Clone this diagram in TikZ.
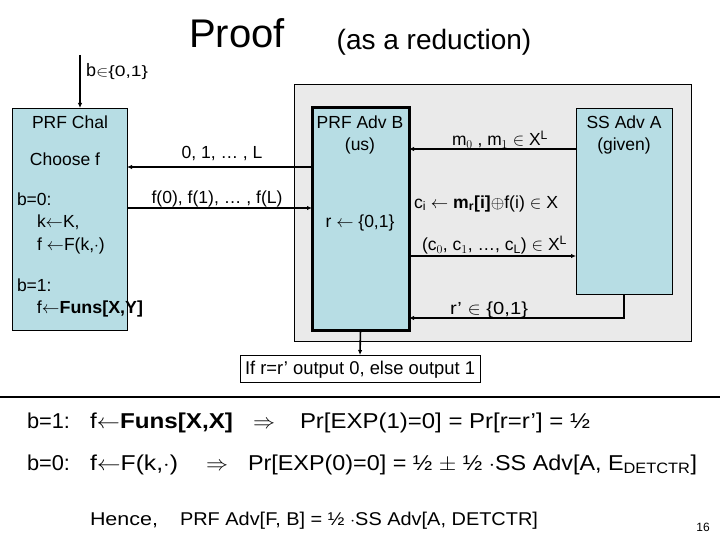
\documentclass[tikz,border=0pt]{standalone}
\usepackage{fontspec}
\setmainfont{Liberation Sans}
\usetikzlibrary{arrows.meta}
\definecolor{boxblue}{RGB}{183,221,228}
\definecolor{boxgrey}{RGB}{234,234,234}
\newcommand\fitto[2]{\resizebox{#1}{\height}{#2}}
\begin{document}
\begin{tikzpicture}[x=1pt,y=-1pt,
  every node/.style={inner sep=0pt, outer sep=0pt},
  arr/.style={line width=1.6pt, -{Latex[length=5pt,width=4.5pt]}},
  ln/.style={line width=1.4pt},
  bluebox/.style={draw, line width=0.8pt, fill=boxblue, anchor=north west},
  txt/.style={font=\fontsize{17.5}{20}\selectfont, anchor=base},
  txtl/.style={font=\fontsize{17.5}{20}\selectfont, anchor=base west},
  big/.style={font=\fontsize{21.5}{25}\selectfont, anchor=base west},
  mid/.style={font=\fontsize{18.5}{22}\selectfont, anchor=base west},
]
\useasboundingbox (0,0) rectangle (720,540);
% title
\node[font=\fontsize{40}{46}\selectfont, anchor=base] (title) at (237,48) {Proof};
\node[font=\fontsize{28}{32}\selectfont, anchor=base] (sub) at (434,50) {(as a reduction)};
% grey area
\node[draw, line width=0.6pt, fill=boxgrey, anchor=north west, minimum width=397pt, minimum height=257pt] (grey) at (294,84) {};
% boxes
\node[bluebox, minimum width=115pt, minimum height=222pt] (chal) at (12,108) {};
\node[bluebox, line width=3pt, minimum width=97pt, minimum height=222pt] (advb) at (312,108) {};
\node[bluebox, minimum width=96pt, minimum height=186pt] (adva) at (576,108) {};
% b input
\coordinate (bin) at (80,55);
\draw[arr] (bin) -- (chal.north west -| bin);
\node[anchor=base west, font=\fontsize{18}{20}\selectfont] (blab) at (86,77) {b\fitto{52pt}{\fontsize{15}{17}\selectfont$\in$\{0,1\}}};
% chal text
\node[txt] (t1) at (70,129) {PRF Chal};
\node[txt] (t2) at (65,166) {Choose f};
\node[txtl] (t3) at (17,206) {b=0:};
\node[txtl] (t4) at (37,228) {k$\leftarrow$K,};
\node[txtl] (t5) at (37,250) {f $\leftarrow$F(k,$\cdot$)};
\node[txtl] (t6) at (17,291) {b=1:};
\node[txtl] (t7) at (37,313) {\fitto{106pt}{f$\leftarrow$\textbf{Funs[X,Y]}}};
% B text
\node[txt] (b1) at (360,129) {PRF Adv B};
\node[txt] (b2) at (360,151) {(us)};
\node[txt] (b3) at (360,228) {r $\leftarrow$ \{0,1\}};
% A text
\node[txt] (a1) at (624,129) {SS Adv A};
\node[txt] (a2) at (624,151) {(given)};
% arrows between chal and B
\coordinate (y1) at (0,167);
\coordinate (y2) at (0,208);
\draw[arr] (advb.west |- y1) -- (chal.east |- y1);
\draw[arr] (chal.east |- y2) -- (advb.west |- y2);
\node[txt] (l1) at (222,159) {\fitto{81pt}{0, 1, \dots\ , L}};
\node[txt] (l2) at (217,204) {\fitto{131pt}{f(0), f(1), \dots\ , f(L)}};
% arrows between B and A
\coordinate (y3) at (0,149);
\coordinate (y4) at (0,256);
\coordinate (y5) at (0,318);
\draw[arr] (adva.west |- y3) -- (advb.east |- y3);
\draw[arr] (advb.east |- y4) -- (adva.west |- y4);
\draw[arr] (adva.south) -- (adva.south |- y5) -- (advb.east |- y5);
\node[txt] (l3) at (500,146) {\fitto{96pt}{m$_0$ , m$_1$ $\in$ X$^{\mathrm{L}}$}};
\node[txtl] (l4) at (414,208) {\fitto{144pt}{c$_{\mathrm{i}}$ $\leftarrow$ \textbf{m$_{\mathbf{r}}$[i]}$\oplus$f(i) $\in$ X}};
\node[txtl] (l5) at (422,251) {\fitto{145pt}{(c$_0$, c$_1$, \dots, c$_{\mathrm{L}}$) $\in$ X$^{\mathrm{L}}$}};
\node[txtl] (l6) at (450,314) {\fitto{78pt}{r' $\in$ \{0,1\}}};
% output
\node[draw, line width=0.8pt, fill=white, minimum width=240pt, minimum height=27pt, anchor=north] (out) at (360,355) {};
\node[mid] (outt) at (245,374) {\fitto{230pt}{If r=r' output 0, else output 1}};
\draw[arr] (advb.south) -- (out.north);
% rule
\coordinate (rl) at (0,397);
\coordinate (rr) at (720,397);
\draw[ln] (rl) -- (rr);
% bottom line 1
\node[big] (e1a) at (27,428) {\fitto{43pt}{b=1:}};
\node[big] (e1b) at (90,428) {\fitto{143pt}{f$\leftarrow$\textbf{Funs[X,X]}}};
\node[big] (e1c) at (253,428) {\fitto{22pt}{$\Rightarrow$}};
\node[big] (e1d) at (300,428) {\fitto{290pt}{Pr[EXP(1)=0] = Pr[r=r'] = ½}};
% bottom line 2
\node[big] (e2a) at (27,470) {\fitto{43pt}{b=0:}};
\node[big] (e2b) at (90,470) {\fitto{88pt}{f$\leftarrow$F(k,$\cdot$)}};
\node[big] (e2c) at (206,470) {\fitto{22pt}{$\Rightarrow$}};
\node[big] (e2d) at (248,470) {\fitto{449pt}{Pr[EXP(0)=0] = ½ $\pm$ ½ $\cdot$SS Adv[A, E$_{\mathrm{DETCTR}}$]}};
% bottom line 3
\node[mid] (e3a) at (90,525) {\fitto{68pt}{Hence,}};
\node[mid] (e3b) at (180,525) {\fitto{358pt}{PRF Adv[F, B] = ½ $\cdot$SS Adv[A, DETCTR]}};
\node[font=\fontsize{12}{14}\selectfont, anchor=base] (pg) at (703,531) {16};
\end{tikzpicture}
\end{document}
